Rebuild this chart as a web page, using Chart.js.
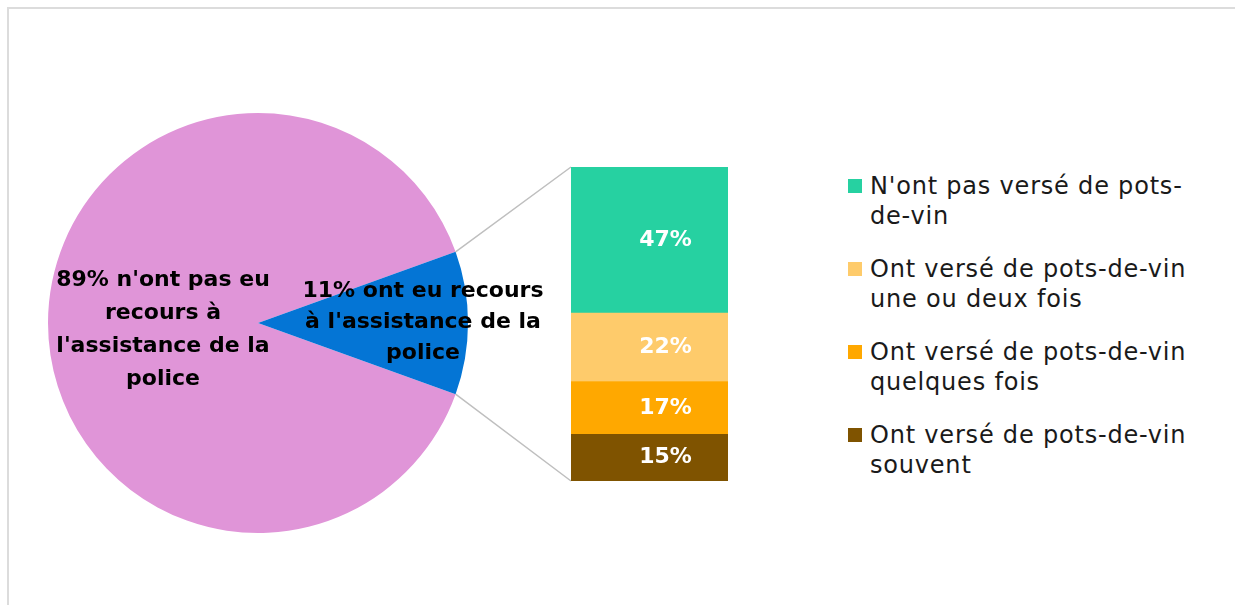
<!DOCTYPE html>
<html lang="fr">
<head>
<meta charset="utf-8">
<title>Recours à l'assistance de la police</title>
<script src="https://cdn.jsdelivr.net/npm/chart.js@4.4.1/dist/chart.umd.min.js"></script>
<style>
  html, body { margin: 0; padding: 0; background: #fff; }
  body { width: 1235px; height: 605px; position: relative; overflow: hidden; font-family: "DejaVu Sans", sans-serif; }
  #frame { position: absolute; left: 7px; top: 7px; right: -60px; bottom: -60px; box-sizing: border-box;
           border-top: 2px solid #DCDCDC; border-left: 2px solid #DCDCDC; }
  #pieBox { position: absolute; left: 0; top: 60px; width: 600px; height: 520px; }
  #barBox { position: absolute; left: 440px; top: 150px; width: 310px; height: 350px; }
  #legend { position: absolute; left: 848px; top: 171px; }
  .item { display: flex; align-items: flex-start; margin-bottom: 23px; }
  .swatch { width: 14px; height: 14px; margin-top: 8px; margin-right: 8px; flex: none; }
  .text { font-size: 24px; line-height: 30px; letter-spacing: 0.8px; color: #1a1a1a; white-space: nowrap; }
</style>
</head>
<body>
<div id="frame"></div>
<div id="pieBox"><canvas id="pie"></canvas></div>
<div id="barBox"><canvas id="bar"></canvas></div>
<div id="legend"></div>

<script>
// pie: share of people who asked the police for help
const pieValues = [89, 11];
const pieLines = [
  ["n'ont pas eu", "recours à", "l'assistance de la", "police"],
  ["ont eu recours", "à l'assistance de la", "police"]
];
const pieColors = ["#E095D8", "#0475D5"];

// bar: breakdown of the 11% who had recourse to the police
const barLabels = [
  ["N'ont pas versé de pots-", "de-vin"],
  ["Ont versé de pots-de-vin", "une ou deux fois"],
  ["Ont versé de pots-de-vin", "quelques fois"],
  ["Ont versé de pots-de-vin", "souvent"]
];
const barValues = [47, 22, 17, 15];
const barColors = ["#26D1A1", "#FECB6B", "#FFA800", "#7F5300"];

const boldFont = 'bold 22px "DejaVu Sans", sans-serif';

// wrapped labels inside each pie slice
const pieLabelPlugin = {
  id: 'pieLabels',
  afterDatasetsDraw(chart) {
    const ctx = chart.ctx;
    const arcs = chart.getDatasetMeta(0).data;
    const offsets = [{ dx: -95, dy: 7, lh: 33 }, { dx: 165, dy: -1, lh: 31 }];
    ctx.save();
    ctx.font = boldFont;
    ctx.fillStyle = '#000';
    ctx.textAlign = 'center';
    ctx.textBaseline = 'middle';
    arcs.forEach((arc, i) => {
      const lines = pieLines[i].slice();
      lines[0] = pieValues[i] + '% ' + lines[0];
      const o = offsets[i];
      const top = arc.y + o.dy - (lines.length - 1) * o.lh / 2;
      lines.forEach((l, k) => ctx.fillText(l, arc.x + o.dx, top + k * o.lh));
    });
    ctx.restore();
  }
};

const pieChart = new Chart(document.getElementById('pie'), {
  type: 'pie',
  data: {
    labels: pieLines.map(l => l.join(' ')),
    datasets: [{ data: pieValues, backgroundColor: pieColors, borderWidth: 0 }]
  },
  options: {
    responsive: true,
    maintainAspectRatio: false,
    animation: false,
    // keep the small slice centred on the right-hand side
    rotation: 90 + pieValues[1] * 3.6 / 2,
    layout: { padding: { left: 48, top: 53, right: 132, bottom: 47 } },
    plugins: { legend: { display: false }, tooltip: { enabled: false } }
  },
  plugins: [pieLabelPlugin]
});

// grey lines joining the small slice to the stacked bar
const connectorPlugin = {
  id: 'connectors',
  beforeDatasetsDraw(chart) {
    const arc = pieChart.getDatasetMeta(0).data[1];
    if (!arc) return;
    const pr = pieChart.canvas.getBoundingClientRect();
    const br = chart.canvas.getBoundingClientRect();
    const ox = pr.left - br.left, oy = pr.top - br.top;
    const r = arc.outerRadius;
    const p1 = { x: ox + arc.x + r * Math.cos(arc.startAngle), y: oy + arc.y + r * Math.sin(arc.startAngle) };
    const p2 = { x: ox + arc.x + r * Math.cos(arc.endAngle), y: oy + arc.y + r * Math.sin(arc.endAngle) };
    const metas = chart.data.datasets.map((d, i) => chart.getDatasetMeta(i).data[0]);
    const topBar = metas[metas.length - 1];
    const bottomBar = metas[0];
    const left = topBar.x - topBar.width / 2;
    const ctx = chart.ctx;
    ctx.save();
    ctx.strokeStyle = '#BFBFBF';
    ctx.lineWidth = 1.5;
    ctx.beginPath();
    ctx.moveTo(p1.x, p1.y);
    ctx.lineTo(left, topBar.y);
    ctx.moveTo(p2.x, p2.y);
    ctx.lineTo(left, bottomBar.base);
    ctx.stroke();
    ctx.restore();
  }
};

// white percentage labels on each segment
const barLabelPlugin = {
  id: 'barLabels',
  afterDatasetsDraw(chart) {
    const ctx = chart.ctx;
    ctx.save();
    ctx.font = boldFont;
    ctx.fillStyle = '#fff';
    ctx.textAlign = 'center';
    ctx.textBaseline = 'middle';
    chart.data.datasets.forEach((ds, i) => {
      const el = chart.getDatasetMeta(i).data[0];
      ctx.fillText(ds.data[0] + '%', el.x + 16, (el.y + el.base) / 2);
    });
    ctx.restore();
  }
};

// stack from the bottom up, so the first legend entry ends on top
const order = barValues.map((v, i) => i).reverse();
const total = barValues.reduce((a, b) => a + b, 0);

new Chart(document.getElementById('bar'), {
  type: 'bar',
  data: {
    labels: ['Recours'],
    datasets: order.map(i => ({
      label: barLabels[i].join(' '),
      data: [barValues[i]],
      backgroundColor: barColors[i],
      borderWidth: 0,
      barPercentage: 1,
      categoryPercentage: 1
    }))
  },
  options: {
    responsive: true,
    maintainAspectRatio: false,
    animation: false,
    layout: { padding: { left: 131, right: 22, top: 17, bottom: 19 } },
    scales: {
      x: { stacked: true, display: false },
      y: { stacked: true, display: false, min: 0, max: total }
    },
    plugins: { legend: { display: false }, tooltip: { enabled: false } }
  },
  plugins: [connectorPlugin, barLabelPlugin]
});

// legend
const legend = document.getElementById('legend');
barLabels.forEach((lines, i) => {
  const item = document.createElement('div');
  item.className = 'item';
  const sw = document.createElement('span');
  sw.className = 'swatch';
  sw.style.background = barColors[i];
  const txt = document.createElement('span');
  txt.className = 'text';
  txt.innerHTML = lines.join('<br>');
  item.appendChild(sw);
  item.appendChild(txt);
  legend.appendChild(item);
});
</script>
</body>
</html>
